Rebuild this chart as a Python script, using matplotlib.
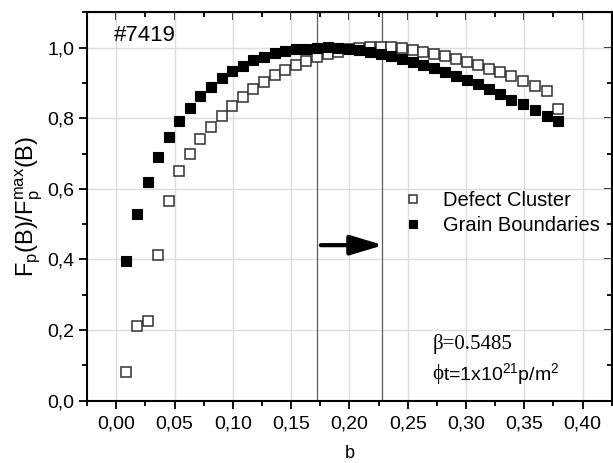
import matplotlib
matplotlib.use("Agg")
import matplotlib.pyplot as plt
import matplotlib.ticker as ticker

plt.rcParams['font.family'] = ['Liberation Sans', 'DejaVu Sans']
plt.rcParams['mathtext.fontset'] = 'custom'
plt.rcParams['mathtext.rm'] = 'Liberation Sans'
plt.rcParams['mathtext.it'] = 'Liberation Sans'

# reduced field b
b = [0.0088, 0.0180, 0.0271, 0.0360, 0.0450, 0.0542, 0.0630, 0.0722, 0.0813,
     0.0904, 0.0996, 0.1084, 0.1175, 0.1264, 0.1358, 0.1447, 0.1541, 0.1632,
     0.1721, 0.1814, 0.1906, 0.1997, 0.2086, 0.2177, 0.2269, 0.2357, 0.2454,
     0.2545, 0.2634, 0.2728, 0.2819, 0.2911, 0.3005, 0.3102, 0.3196, 0.3293,
     0.3388, 0.3489, 0.3590, 0.3691, 0.3789]

# Fp/Fp_max for defect clusters (open squares)
defect = [0.082, 0.211, 0.226, 0.414, 0.566, 0.651, 0.700, 0.742, 0.775,
          0.806, 0.836, 0.861, 0.884, 0.904, 0.922, 0.938, 0.951, 0.961,
          0.973, 0.981, 0.988, 0.995, 0.999, 1.001, 1.003, 1.001, 0.998,
          0.992, 0.987, 0.982, 0.975, 0.969, 0.958, 0.952, 0.940, 0.930,
          0.919, 0.905, 0.891, 0.878, 0.826]

# Fp/Fp_max for grain boundaries (filled squares)
grain = [0.396, 0.528, 0.620, 0.689, 0.746, 0.791, 0.830, 0.862, 0.889,
         0.914, 0.933, 0.949, 0.964, 0.974, 0.985, 0.991, 0.995, 0.997,
         1.000, 1.001, 0.999, 0.996, 0.993, 0.988, 0.983, 0.975, 0.969,
         0.960, 0.952, 0.942, 0.931, 0.919, 0.908, 0.896, 0.882, 0.869,
         0.853, 0.839, 0.823, 0.807, 0.791]

vlines = [0.1726, 0.2277]
arrow_x = [0.1755, 0.2291]
arrow_y = 0.4405


def comma_fmt(digits):
    return ticker.FuncFormatter(lambda v, pos: f'{v:.{digits}f}'.replace('.', ','))


fig = plt.figure(figsize=(6.13, 4.63), dpi=100)
ax = fig.add_axes([0.142, 0.1346, 0.856, 0.8388])

ax.set_axisbelow(True)
ax.grid(True, color='#dcdcdc', lw=1.0)

for xv in vlines:
    ax.axvline(xv, color='#5a5a5a', lw=0.9, zorder=1)

h1, = ax.plot(b, defect, 's', ms=6.5, mfc='white', mec='#303030', mew=1.1,
              label='Defect Cluster', zorder=3)
h2, = ax.plot(b, grain, 's', ms=6.5, mfc='black', mec='black', mew=0.8,
              label='Grain Boundaries', zorder=4)

ax.annotate('', xy=(arrow_x[1], arrow_y), xytext=(arrow_x[0], arrow_y),
            arrowprops=dict(arrowstyle='-|>,head_length=1.0,head_width=0.3',
                            mutation_scale=20, lw=3, color='black',
                            shrinkA=0, shrinkB=0, capstyle='round'))

ax.legend(handles=[h1, h2], loc='upper left', bbox_to_anchor=(0.602, 0.540),
          frameon=False, fontsize=14.5, handlelength=1.0, handletextpad=1.0,
          labelspacing=0.3, borderpad=0, borderaxespad=0, markerscale=0.85)

ax.text(-0.0023, 1.034, '#7419', fontsize=16, va='center', ha='left')
ax.text(0.2714, 0.16, 'β=0.5485', fontsize=15, va='center', ha='left',
        family=['Liberation Serif', 'DejaVu Serif'])
ax.text(0.2714, 0.0755, 'ϕ', fontsize=15, va='center', ha='left',
        family=['Liberation Serif', 'DejaVu Serif'])
ax.text(0.2800, 0.0755, r't=1x10$^{21}$p/m$^{2}$', fontsize=14, va='center', ha='left')

ax.set_xlim(-0.025, 0.425)
ax.set_ylim(0.0, 1.1)

ax.xaxis.set_major_locator(ticker.MultipleLocator(0.05))
ax.xaxis.set_minor_locator(ticker.MultipleLocator(0.025))
ax.yaxis.set_major_locator(ticker.MultipleLocator(0.2))
ax.yaxis.set_minor_locator(ticker.MultipleLocator(0.1))
ax.xaxis.set_major_formatter(comma_fmt(2))
ax.yaxis.set_major_formatter(comma_fmt(1))

ax.tick_params(which='both', direction='out', width=1.3, labelsize=14)
ax.tick_params(which='major', length=6)
ax.tick_params(axis='x', which='major', pad=5)
ax.tick_params(axis='y', which='major', pad=3)
ax.tick_params(which='minor', length=3.5)
for s in ax.spines.values():
    s.set_linewidth(1.5)

# inward ticks on top and right, like the Origin frame
top = ax.secondary_xaxis('top')
top.grid(False)
top.xaxis.set_major_locator(ticker.MultipleLocator(0.05))
top.xaxis.set_minor_locator(ticker.MultipleLocator(0.025))
top.tick_params(which='both', direction='in', labeltop=False, width=1.3, color='black')
top.tick_params(which='major', length=6)
top.tick_params(which='minor', length=3.5)
right = ax.secondary_yaxis('right')
right.grid(False)
right.yaxis.set_major_locator(ticker.MultipleLocator(0.2))
right.yaxis.set_minor_locator(ticker.MultipleLocator(0.1))
right.tick_params(which='both', direction='in', labelright=False, width=1.3, color='black')
right.tick_params(which='major', length=6)
right.tick_params(which='minor', length=3.5)

ax.set_xlabel('b', fontsize=13, labelpad=9)
ax.set_ylabel(r'F$_\mathregular{p}$(B)/F$_\mathregular{p}^\mathregular{max}$(B)', fontsize=17, labelpad=2)

fig.savefig('out.png', dpi=100)
